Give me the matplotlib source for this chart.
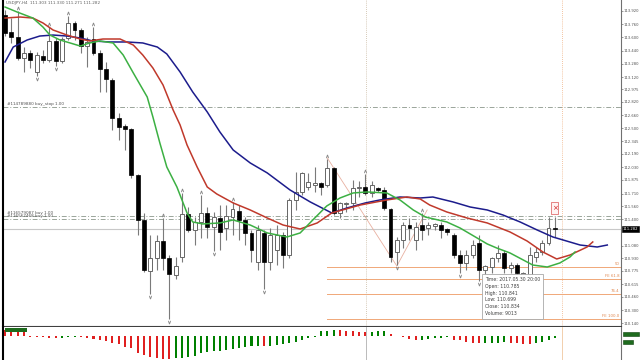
import matplotlib.pyplot as plt
import numpy as np
from matplotlib.patches import Rectangle
from matplotlib.transforms import blended_transform_factory

# USDJPY H4 bars, oldest first
opens = [113.871, 113.666, 113.605, 113.351, 113.412, 113.182, 113.375, 113.327, 113.557, 113.315,
         113.593, 113.775, 113.690, 113.496, 113.581, 113.412, 113.218, 113.085, 112.625, 112.528,
         112.492, 111.935, 111.391, 110.774, 110.931, 111.137, 110.931, 110.725, 110.943, 111.464,
         111.270, 111.367, 111.476, 111.306, 111.415, 111.294, 111.427, 111.500, 111.391, 111.234,
         110.883, 111.234, 110.883, 111.028, 111.209, 110.967, 111.633, 111.730, 111.790, 111.814,
         111.839, 111.814, 112.020, 111.476, 111.585, 111.597, 111.778, 111.790, 111.718, 111.778,
         111.754, 111.524, 111.004, 111.149, 111.330, 111.149, 111.330, 111.294, 111.318, 111.330,
         111.282, 111.209, 110.967, 110.871, 110.967, 111.113, 110.785, 110.822, 110.931, 110.992,
         110.810, 110.846, 110.713, 110.725, 110.943, 111.004, 111.113, 111.294]
highs = [113.932, 113.835, 113.920, 113.484, 113.448, 113.424, 113.448, 113.726, 113.593, 113.605,
         113.859, 113.799, 113.714, 113.605, 113.726, 113.448, 113.303, 113.109, 112.686, 112.553,
         112.504, 111.948, 111.476, 111.209, 111.209, 111.415, 110.967, 110.943, 111.718, 111.548,
         111.427, 111.693, 111.548, 111.488, 111.572, 111.572, 111.609, 111.572, 111.427, 111.270,
         111.330, 111.270, 111.294, 111.330, 111.246, 111.657, 111.972, 111.972, 111.960, 112.032,
         111.851, 112.129, 112.032, 111.609, 111.609, 111.875, 111.863, 111.948, 111.863, 111.790,
         111.790, 111.536, 111.185, 111.367, 111.415, 111.367, 111.476, 111.367, 111.355, 111.367,
         111.294, 111.234, 111.028, 111.028, 111.149, 111.209, 110.841, 110.943, 111.088, 111.028,
         110.883, 110.871, 110.762, 111.064, 111.064, 111.149, 111.427, 111.427]
lows = [113.617, 113.533, 113.327, 113.182, 113.230, 113.133, 113.291, 113.303, 113.254, 113.291,
        113.569, 113.569, 113.412, 113.242, 113.387, 112.940, 112.940, 112.480, 112.359, 112.238,
        111.899, 111.209, 110.762, 110.496, 110.786, 110.786, 110.193, 110.677, 110.883, 111.246,
        111.088, 111.173, 111.173, 111.016, 111.028, 111.149, 111.209, 111.149, 111.088, 110.883,
        110.786, 110.556, 110.786, 110.846, 110.810, 110.931, 111.512, 111.693, 111.754, 111.730,
        111.693, 111.790, 111.451, 111.415, 111.488, 111.512, 111.669, 111.693, 111.669, 111.730,
        111.512, 110.883, 110.846, 111.052, 111.149, 111.028, 111.149, 111.209, 111.270, 111.173,
        111.209, 110.931, 110.750, 110.786, 110.931, 110.653, 110.699, 110.750, 110.883, 110.750,
        110.750, 110.713, 110.689, 110.701, 110.883, 110.967, 111.088, 111.185]
closes = [113.654, 113.605, 113.351, 113.412, 113.327, 113.387, 113.327, 113.557, 113.315, 113.581,
          113.775, 113.690, 113.496, 113.545, 113.412, 113.218, 113.097, 112.625, 112.516, 112.492,
          111.935, 111.391, 110.786, 110.931, 111.137, 110.931, 110.738, 110.834, 111.464, 111.270,
          111.367, 111.476, 111.306, 111.427, 111.246, 111.439, 111.524, 111.391, 111.234, 111.028,
          111.270, 110.883, 111.209, 111.209, 110.967, 111.633, 111.730, 111.960, 111.851, 111.839,
          111.790, 112.020, 111.476, 111.597, 111.597, 111.778, 111.790, 111.718, 111.814, 111.754,
          111.536, 110.943, 111.149, 111.330, 111.294, 111.306, 111.270, 111.330, 111.343, 111.270,
          111.246, 110.967, 110.871, 110.967, 111.088, 110.786, 110.834, 110.931, 110.992, 110.810,
          110.846, 110.750, 110.750, 110.967, 111.004, 111.113, 111.294, 111.282]

# fractal bars
fractal_up = [2, 7, 10, 14, 25, 28, 31, 36, 51, 57, 66]
fractal_down = [5, 8, 23, 26, 33, 41, 62, 72, 75]

# Alligator lines (bar position, price), shifted past the last bar
jaw_pos = [0, 1.3, 3.5, 5.5, 7.6, 9.8, 11.9, 13.9, 16.6, 19.3, 21.8, 24.1, 25.6, 27.7, 29.7, 32.0,
           34.0, 36.1, 38.8, 41.5, 45.1, 48.3, 51.7, 54.1, 57.0, 59.3, 62.5, 65.7, 67.7, 70.9,
           73.6, 76.3, 78.8, 81.5, 84.2, 86.7, 88.3, 91.0, 93.7, 95.3]
jaw = [113.303, 113.484, 113.569, 113.617, 113.629, 113.617, 113.593, 113.557, 113.545, 113.545,
       113.533, 113.484, 113.400, 113.182, 112.940, 112.698, 112.456, 112.238, 112.081, 111.960,
       111.754, 111.609, 111.476, 111.536, 111.597, 111.633, 111.669, 111.657, 111.669, 111.609,
       111.548, 111.512, 111.451, 111.367, 111.270, 111.185, 111.149, 111.088, 111.064, 111.088]
teeth_pos = [0, 2.4, 4.4, 6.0, 7.6, 9.8, 11.9, 13.4, 15.5, 18.2, 20.3, 21.8, 23.4, 25.0, 26.6,
             27.7, 28.8, 30.4, 32.0, 33.5, 36.1, 38.8, 41.5, 44.0, 46.7, 49.4, 51.7, 56.2, 60.4,
             63.6, 65.7, 67.2, 69.9, 73.1, 76.3, 79.9, 82.6, 85.1, 87.3, 89.4, 92.1, 93.0]
teeth = [113.835, 113.847, 113.835, 113.775, 113.690, 113.629, 113.581, 113.557, 113.581, 113.581,
         113.508, 113.387, 113.230, 113.025, 112.722, 112.541, 112.299, 112.032, 111.790, 111.706,
         111.597, 111.512, 111.415, 111.330, 111.282, 111.355, 111.476, 111.572, 111.633, 111.669,
         111.645, 111.572, 111.488, 111.415, 111.355, 111.246, 111.137, 111.004, 110.919, 110.967,
         111.064, 111.125]
lips_pos = [0, 1.9, 4.4, 6.0, 7.1, 8.7, 10.3, 11.9, 13.4, 15.0, 17.1, 18.7, 20.3, 22.5, 23.4,
            24.5, 25.6, 27.2, 28.0, 28.8, 29.7, 31.3, 34.0, 36.1, 38.8, 41.5, 44.6, 46.7, 48.7,
            50.9, 53.0, 55.1, 57.3, 60.4, 62.5, 64.6, 66.5, 69.9, 72.0, 74.7, 76.3, 77.8, 79.9,
            82.0, 83.5, 85.8, 87.8, 89.4, 90.2]
lips = [113.968, 113.908, 113.835, 113.726, 113.629, 113.569, 113.533, 113.496, 113.533, 113.557,
        113.533, 113.387, 113.170, 112.879, 112.637, 112.323, 112.032, 111.790, 111.633, 111.476,
        111.367, 111.343, 111.355, 111.391, 111.330, 111.234, 111.185, 111.234, 111.391, 111.560,
        111.657, 111.718, 111.730, 111.718, 111.633, 111.512, 111.427, 111.367, 111.294, 111.173,
        111.101, 111.052, 110.992, 110.907, 110.846, 110.822, 110.871, 110.943, 111.004]

# Awesome Oscillator, one value per bar
ao = [6.0, 5.8, 5.6, 5.4, -0.6, -1.0, -1.3, -1.6, -1.8, -1.5,
      -1.3, -1.0, -1.2, -1.6, -2.5, -4.0, -5.0, -6.7, -8.3, -10.7,
      -12.3, -16.7, -19.0, -21.3, -22.3, -22.5, -22.6, -22.2, -21.5, -20.5,
      -19.5, -17.0, -16.0, -15.3, -14.5, -13.5, -13.0, -12.0, -11.0, -10.3,
      -9.5, -9.7, -9.5, -9.0, -8.0, -6.5, -5.5, -3.5, -2.0, -0.6,
      5.0, 5.5, 6.0, 5.8, 5.5, 5.0, 4.5, 4.0, 4.3, 4.6,
      5.0, 2.5, 0.5, -1.2, -3.0, -4.0, -3.8, -3.2, -2.3, -1.7,
      -1.3, -3.5, -4.0, -5.5, -6.5, -7.3, -7.0, -6.8, -6.5, -6.3,
      -7.0, -7.3, -7.5, -7.6, -7.0, -6.0, -3.5, -2.3]

# order lines and fibo expansion
order_levels = [112.758, 111.439, 111.403]
order_labels = ["#114789880 buy_stop 1.00", "#116579087 buy 1.00", "#116567468 buy 1.00"]
fibo_points_pos = [51.0, 62.0, 66.8]
fibo_points = [112.141, 110.834, 111.512]
fibo_levels = [110.822, 110.677, 110.496, 110.193]
fibo_labels = ["50", "FE 61.8", "76.4", "FE 100.0"]
vline_pos = [57.1, 88.1]

price_ticks = [113.920, 113.760, 113.600, 113.440, 113.280, 113.120, 112.975, 112.820, 112.660,
               112.500, 112.345, 112.190, 112.030, 111.875, 111.710, 111.560, 111.400,
               111.080, 110.930, 110.775, 110.615, 110.460, 110.300, 110.140]

tooltip = ["Time: 2017.05.30 20:00", "Open: 110.785", "High: 110.841",
           "Low: 110.699", "Close: 110.834", "Volume: 9013"]
tooltip_bar = 76

fig = plt.figure(figsize=(6.4, 3.6), dpi=100)
ax = fig.add_axes([3 / 640, 34 / 360, 618 / 640, 326 / 360])
ax2 = fig.add_axes([3 / 640, 0, 618 / 640, 33 / 360])

x_min, x_max = -0.32, 97.47
ax.set_xlim(x_min, x_max)
ax.set_ylim(110.108, 114.053)

# level lines
dashdot = (0, (5, 2, 1, 2))
for lvl in order_levels:
    ax.axhline(lvl, color="#9aa59a", lw=0.7, ls=dashdot, zorder=1)
for lvl, lab in zip(order_levels, order_labels):
    ax.text(0.3, lvl + 0.012, lab, fontsize=3.0, color="#505050", va="bottom")
ax.axhline(closes[-1], color="#c8c8c8", lw=0.8, zorder=1)

for lvl, lab in zip(fibo_levels, fibo_labels):
    ax.plot([fibo_points_pos[0], x_max], [lvl, lvl], color="#f0a878", lw=0.7, zorder=1)
    ax.text(x_max - 0.2, lvl + 0.01, lab, fontsize=2.8, color="#e08850", ha="right", va="bottom")
ax.plot(fibo_points_pos, fibo_points, color="#e8b0a0", lw=0.6, zorder=1)

ax.axvline(vline_pos[0], color="#c8b8a0", lw=0.6, ls=(0, (1, 1.5)), zorder=1)
ax.axvline(vline_pos[1], color="#f0b080", lw=0.6, ls=(0, (1, 1.5)), zorder=1)

# candles
idx = np.arange(len(opens))
o, h, l, c = (np.array(v) for v in (opens, highs, lows, closes))
bull = c >= o
ax.vlines(idx, l, h, color="#7a7a7a", lw=0.8, zorder=2)
lo = np.minimum(o, c)
hgt = np.maximum(np.abs(c - o), 0.012)
ax.bar(idx[bull], hgt[bull], bottom=lo[bull], width=0.62, color="white",
       edgecolor="#666666", lw=0.7, zorder=3)
ax.bar(idx[~bull], hgt[~bull], bottom=lo[~bull], width=0.62, color="black",
       edgecolor="black", lw=0.5, zorder=3)

# fractals
ax.scatter(fractal_up, h[fractal_up] + 0.04, marker=r"$\wedge$", s=5, color="#808080", lw=0.2, zorder=3)
ax.scatter(fractal_down, l[fractal_down] - 0.04, marker=r"$\vee$", s=5, color="#808080", lw=0.2, zorder=3)

# alligator
ax.plot(jaw_pos, jaw, color="#1c1c8c", lw=1.1, zorder=4)
ax.plot(teeth_pos, teeth, color="#c0392b", lw=1.1, zorder=4)
ax.plot(lips_pos, lips, color="#3cb043", lw=1.1, zorder=4)

# close-order marker on the last bar
last = len(opens) - 1
ax.add_patch(Rectangle((last - 0.55, 111.46), 1.1, 0.15, fc="#fff4f4", ec="#e07070", lw=0.6, zorder=5))
ax.text(last, 111.535, "×", color="#d02020", fontsize=5, ha="center", va="center", zorder=6)

# tooltip
ax.text(tooltip_bar - 0.05, 110.70, "\n".join(tooltip), fontsize=3.3, color="#404040",
        va="top", ha="left", linespacing=1.45, zorder=10,
        bbox=dict(boxstyle="square,pad=0.7", fc="white", ec="#a8a8a8", lw=0.6))

# price axis
ax.yaxis.tick_right()
ax.set_yticks(price_ticks)
ax.set_yticklabels([f"{t:.3f}" for t in price_ticks])
ax.tick_params(axis="y", labelsize=2.7, labelcolor="#505050", length=1.2, width=0.5, pad=0.6, color="#707070")
ax.set_xticks([])
ax.spines["top"].set_visible(False)
ax.spines["left"].set_color("black")
ax.spines["left"].set_linewidth(1.5)
ax.spines["right"].set_color("#707070")
ax.spines["right"].set_linewidth(0.8)
ax.spines["bottom"].set_color("#404040")
ax.spines["bottom"].set_linewidth(0.8)

tr = blended_transform_factory(ax.transAxes, ax.transData)
ax.text(1.003, closes[-1], f"{closes[-1]:.3f}", transform=tr, fontsize=2.7, color="white",
        va="center", ha="left", clip_on=False,
        bbox=dict(boxstyle="square,pad=0.25", fc="black", ec="black", lw=0.4))

fig.text(6 / 640, 1 - 3 / 360, "USDJPY,H4  111.303 111.330 111.271 111.282",
         fontsize=3.0, color="#606060", va="center")

# AO panel
ao_arr = np.array(ao)
ao_colors = ["#e02020"] + ["#008000" if ao_arr[i] > ao_arr[i - 1] else "#e02020"
                           for i in range(1, len(ao_arr))]
ax2.bar(idx, ao_arr, width=0.32, color=ao_colors, zorder=2)
ax2.set_xlim(x_min, x_max)
ax2.set_ylim(-24, 9)
ax2.axvline(vline_pos[0], color="#b0b0b0", lw=0.6, zorder=1)
ax2.axvline(vline_pos[1], color="#f0c8a0", lw=0.6, zorder=1)
ax2.set_xticks([])
ax2.set_yticks([])
ax2.spines["top"].set_visible(False)
ax2.spines["bottom"].set_visible(False)
ax2.spines["left"].set_color("black")
ax2.spines["left"].set_linewidth(1.5)
ax2.spines["right"].set_color("#707070")
ax2.spines["right"].set_linewidth(0.8)
ax2.add_patch(Rectangle((0.0, 4.5), 3.5, 4.0, fc="#1e6b1e", ec="none", zorder=3))
ax2.add_patch(Rectangle((1.003, 0.72), 0.026, 0.14, transform=ax2.transAxes, fc="#1e6b1e",
                        ec="#0a400a", lw=0.4, clip_on=False))
ax2.add_patch(Rectangle((1.003, 0.5), 0.016, 0.12, transform=ax2.transAxes, fc="#1e6b1e",
                        ec="#0a400a", lw=0.4, clip_on=False))

fig.savefig("out.png", dpi=100, facecolor="white")
